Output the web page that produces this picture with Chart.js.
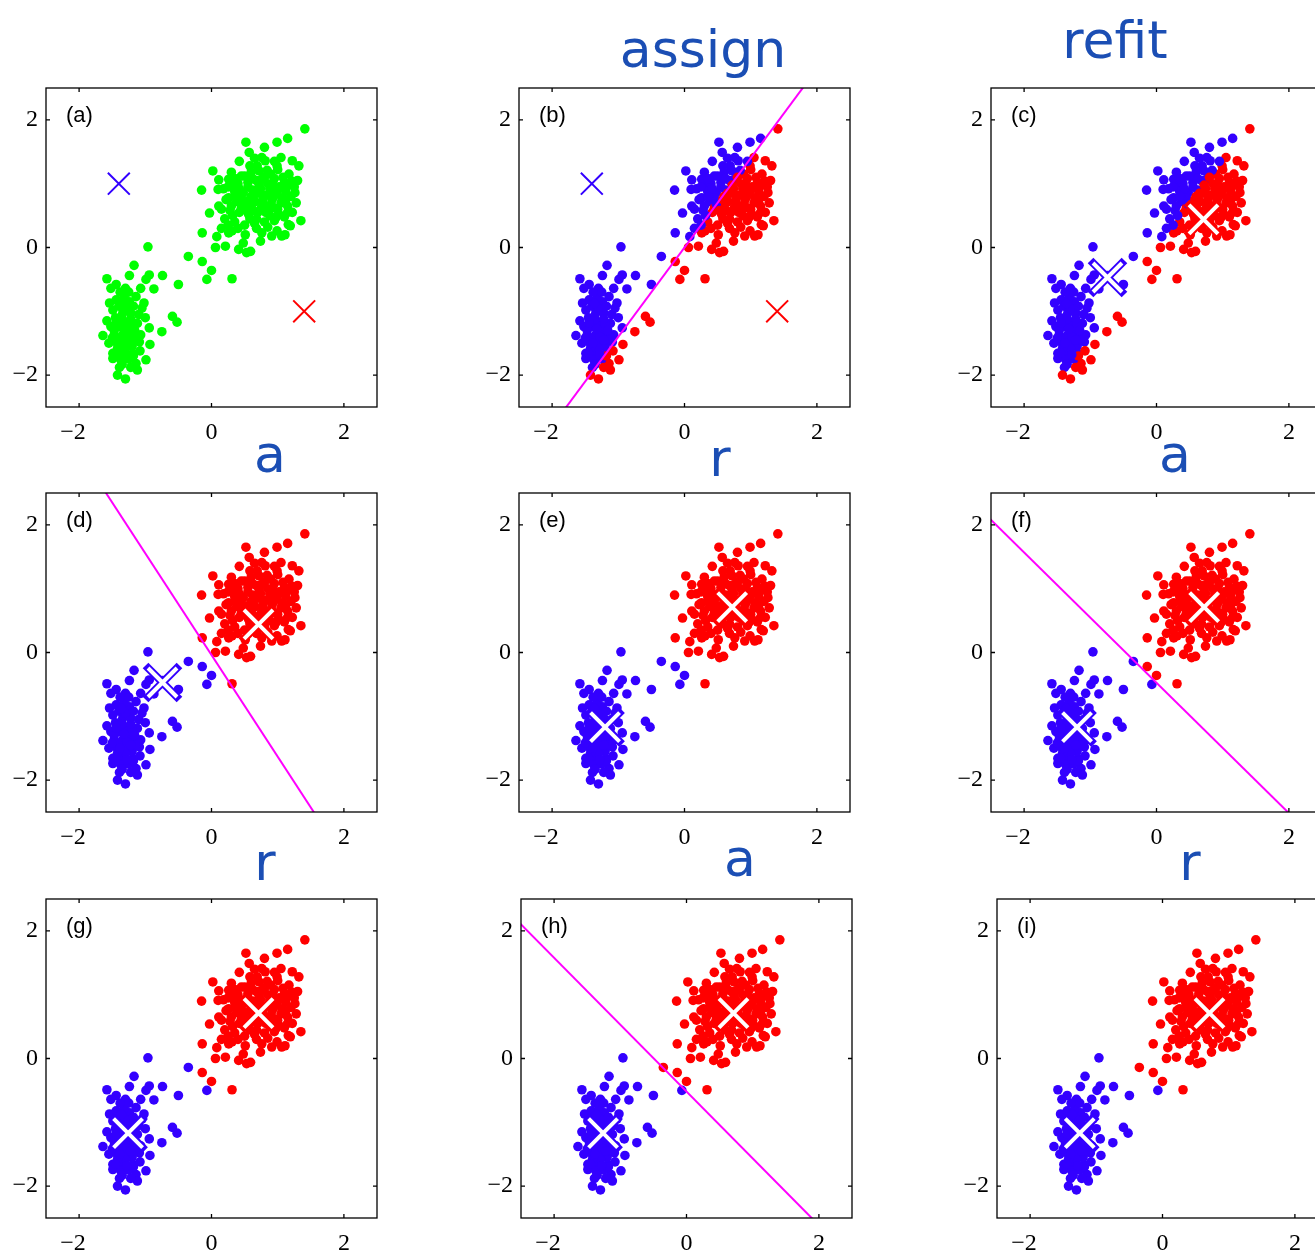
<!DOCTYPE html>
<html lang="en">
  <head>
    <meta charset="UTF-8" />
    <title>K-means iterations</title>
    <script src="https://cdn.jsdelivr.net/npm/chart.js"></script>
    <style>
      html,
      body {
        margin: 0;
        padding: 0;
        width: 1315px;
        height: 1253px;
        overflow: hidden;
        background: #fff;
      }
      .panel {
        position: absolute;
      }
      /* handwritten notes */
      .note {
        position: absolute;
        color: rgb(27, 78, 180);
        font-family: "DejaVu Sans";
        font-size: 52px;
        line-height: 1;
        transform: translateX(-50%);
        white-space: nowrap;
      }
    </style>
  </head>
  <body>
    <div class="note" style="left: 703px; top: 23px">assign</div>
    <div class="note" style="left: 1115px; top: 14px">refit</div>
    <div class="note" style="left: 270px; top: 428px">a</div>
    <div class="note" style="left: 720px; top: 432px">r</div>
    <div class="note" style="left: 1175px; top: 428px">a</div>
    <div class="note" style="left: 265px; top: 836px">r</div>
    <div class="note" style="left: 740px; top: 832px">a</div>
    <div class="note" style="left: 1190px; top: 836px">r</div>

    <script>
      // standardised Old Faithful points
      const points = [
        // short eruptions
        [-0.96, 0.01], [-1.17, -0.28], [-1.24, -0.44], [-0.94, -0.43], [-0.74, -0.44],
        [-1.58, -0.49], [-0.99, -0.5], [-0.5, -0.58], [-1.44, -0.58], [-1.52, -0.64],
        [-1.3, -0.64], [-1.07, -0.64], [-0.87, -0.65], [-1.14, -0.77], [-1.54, -0.87],
        [-1.44, -0.82], [-1.24, -0.85], [-1.02, -0.87], [-1.49, -0.98], [-1.34, -1.03],
        [-1.22, -1.03], [-0.59, -1.08], [-0.52, -1.17], [-1.29, -1.19], [-1.12, -1.19],
        [-1.52, -1.24], [-1.39, -1.24], [-0.94, -1.26], [-0.75, -1.32], [-1.64, -1.38],
        [-1.47, -1.37], [-1.34, -1.37], [-1.19, -1.37], [-1.07, -1.37], [-1.44, -1.48],
        [-1.29, -1.5], [-1.09, -1.48], [-0.93, -1.52], [-1.49, -1.66], [-1.34, -1.66],
        [-1.19, -1.66], [-1.49, -1.74], [-1.37, -1.76], [-1.14, -1.82], [-0.99, -1.76],
        [-1.39, -1.88], [-1.12, -1.92], [-1.3, -2.06],
        [-1.4, -0.92], [-1.3, -0.95], [-1.45, -1.1], [-1.35, -1.12], [-1.25, -1.3],
        [-1.4, -1.42], [-1.2, -1.55], [-1.3, -1.58], [-1.42, -1.58], [-1.25, -1.75],
        [-1.2, -1.2], [-1.32, -0.78], [-1.1, -1.05], [-1.58, -1.15], [-1.15, -1.45],
        [-1.35, -1.83], [-1.47, -1.3], [-1.05, -0.95], [-1.25, -0.7], [-1.55, -1.5],
        [-1.38, -0.7], [-1.18, -0.92], [-1.0, -1.1], [-1.28, -1.4], [-1.5, -1.42],
        [-1.18, -1.7], [-1.42, -2.0], [-1.08, -1.62],
        [-1.36, -0.88], [-1.22, -1.12], [-1.44, -1.18], [-1.32, -1.28], [-1.16, -1.3],
        [-1.38, -1.5], [-1.22, -1.45], [-1.45, -1.65], [-1.28, -1.68], [-1.22, -1.88],
        // in between
        [-0.35, -0.14], [-0.14, -0.22], [0.0, -0.36], [-0.07, -0.5], [0.31, -0.49],
        // long eruptions
        [1.41, 1.86], [1.15, 1.71], [0.99, 1.65], [0.8, 1.57], [0.57, 1.49],
        [0.52, 1.65], [1.05, 1.41], [1.22, 1.36], [1.32, 1.28], [0.81, 1.36],
        [0.99, 1.28], [0.69, 1.28], [0.76, 1.41], [0.42, 1.35], [0.58, 1.28],
        [0.02, 1.2], [0.45, 1.12], [0.11, 1.06], [-0.15, 0.9], [0.1, 0.91],
        [0.31, 0.97], [1.17, 1.15], [0.76, 1.07], [0.89, 1.15], [0.84, 1.21],
        [0.26, 1.07], [1.21, 1.04], [1.26, 0.86], [-0.03, 0.54], [-0.14, 0.23],
        [0.08, 0.17], [0.06, 0.0], [0.21, 0.02], [0.41, -0.03], [0.53, -0.08],
        [0.26, 0.23], [0.48, 0.07], [1.35, 0.42], [0.74, 0.1], [0.91, 0.18],
        [1.06, 0.18], [0.59, -0.06], [1.19, 0.34], [0.11, 0.65], [0.26, 0.78],
        [0.31, 0.26], [0.51, 0.2], [0.76, 0.23], [0.99, 0.26], [1.11, 0.2],
        [1.16, 0.36],
        [0.2, 0.45], [0.35, 0.4], [0.5, 0.35], [0.65, 0.38], [0.8, 0.4],
        [0.95, 0.42], [1.1, 0.48], [1.22, 0.55], [0.15, 0.6], [0.28, 0.58],
        [0.42, 0.55], [0.56, 0.52], [0.7, 0.55], [0.85, 0.58], [1.0, 0.6],
        [1.15, 0.65], [1.28, 0.7], [0.22, 0.75], [0.38, 0.72], [0.52, 0.7],
        [0.66, 0.72], [0.78, 0.75], [0.92, 0.76], [1.06, 0.78], [1.2, 0.8],
        [0.18, 0.92], [0.35, 0.88], [0.48, 0.86], [0.62, 0.9], [0.74, 0.92],
        [0.88, 0.92], [1.02, 0.95], [1.14, 0.96], [0.4, 1.0], [0.55, 1.02],
        [0.68, 1.05], [0.95, 1.08], [1.08, 1.1], [0.3, 1.18], [0.6, 1.18],
        [0.72, 1.2], [1.0, 1.22], [0.45, 0.62], [0.6, 0.65], [0.75, 0.62],
        [0.9, 0.68], [1.05, 0.7], [0.32, 0.5], [0.58, 0.45], [0.88, 0.5],
        [1.02, 0.52], [0.7, 0.85], [0.82, 0.82], [0.97, 0.85], [0.45, 0.78],
        [0.6, 0.8], [1.12, 0.88], [0.25, 0.35], [0.4, 0.3], [0.68, 0.3],
        [0.85, 0.32], [1.25, 0.95], [0.15, 0.3], [0.55, 0.95], [0.85, 1.0],
        [1.3, 1.05], [0.95, 1.35], [0.65, 1.4],
        [0.3, 0.65], [0.48, 0.68], [0.63, 0.58], [0.78, 0.68], [0.95, 0.62],
        [1.12, 0.74], [0.42, 0.92], [0.58, 0.75], [0.72, 0.98], [0.88, 0.84],
        [1.0, 0.9], [0.53, 0.58], [0.68, 0.45], [0.82, 0.55], [0.98, 0.48],
        [1.15, 0.55], [0.36, 0.8], [0.65, 0.85], [0.8, 1.1], [0.92, 1.0],
        [1.1, 1.02], [0.5, 1.12], [0.62, 1.08], [0.25, 0.95], [0.35, 1.08],
      ];

      // cluster means [blue, red] at each step
      const centersA = [[-1.4, 1.0], [1.4, -1.0]];
      const centersC = [[-0.74, -0.47], [0.71, 0.44]];
      const centersE = [[-1.2, -1.17], [0.72, 0.71]];
      const centersG = [[-1.26, -1.17], [0.71, 0.71]];
      const centersI = [[-1.25, -1.17], [0.71, 0.71]];

      const tickValues = [-2, 0, 2];
      const tickText = ["\u22122", "0", "2"];
      const panelLabels = ["(a)", "(b)", "(c)", "(d)", "(e)", "(f)", "(g)", "(h)", "(i)"];

      const green = "rgb(0,255,0)";
      const clusterColors = ["rgb(51,0,255)", "rgb(255,0,0)"];
      const magenta = "rgb(255,0,255)";

      // layout: left/top of each plot box, which means colour the points,
      // which means are drawn, boundary or not, marker style
      const panels = [
        { left: 46, top: 88, colorFrom: null, centers: centersA, line: false, bold: false },
        { left: 519, top: 88, colorFrom: centersA, centers: centersA, line: true, bold: false },
        { left: 991, top: 88, colorFrom: centersA, centers: centersC, line: false, bold: true },
        { left: 46, top: 493, colorFrom: centersC, centers: centersC, line: true, bold: true },
        { left: 519, top: 493, colorFrom: centersC, centers: centersE, line: false, bold: true },
        { left: 991, top: 493, colorFrom: centersE, centers: centersE, line: true, bold: true },
        { left: 46, top: 899, colorFrom: centersE, centers: centersG, line: false, bold: true },
        { left: 521, top: 899, colorFrom: centersG, centers: centersG, line: true, bold: true },
        { left: 997, top: 899, colorFrom: centersG, centers: centersI, line: false, bold: true },
      ];

      function nearest(pt, centers) {
        let best = 0, bestD = Infinity;
        centers.forEach(function (c, k) {
          const d = (pt[0] - c[0]) ** 2 + (pt[1] - c[1]) ** 2;
          if (d < bestD) { bestD = d; best = k; }
        });
        return best;
      }

      // perpendicular bisector of the two means
      function boundary(centers) {
        const [c1, c2] = centers;
        const mx = (c1[0] + c2[0]) / 2, my = (c1[1] + c2[1]) / 2;
        const dx = c2[0] - c1[0], dy = c2[1] - c1[1];
        const len = Math.hypot(dx, dy), t = 6 / len;
        return [
          { x: mx + dy * t, y: my - dx * t },
          { x: mx - dy * t, y: my + dx * t },
        ];
      }

      // box, inward ticks on all sides, panel letter
      const panelFrame = {
        id: "panelFrame",
        afterDraw(chart, args, opts) {
          const { ctx, chartArea: a } = chart;
          const x = chart.scales.x, y = chart.scales.y;
          ctx.save();
          ctx.strokeStyle = "#000";
          ctx.lineWidth = 1.3;
          ctx.strokeRect(a.left, a.top, a.right - a.left, a.bottom - a.top);
          ctx.beginPath();
          tickValues.forEach(function (v) {
            const px = x.getPixelForValue(v), py = y.getPixelForValue(v);
            ctx.moveTo(px, a.bottom); ctx.lineTo(px, a.bottom - 4);
            ctx.moveTo(px, a.top); ctx.lineTo(px, a.top + 4);
            ctx.moveTo(a.left, py); ctx.lineTo(a.left + 4, py);
            ctx.moveTo(a.right, py); ctx.lineTo(a.right - 4, py);
          });
          ctx.stroke();
          ctx.fillStyle = "#000";
          ctx.font = '22px "Liberation Sans"';
          ctx.textBaseline = "middle";
          ctx.fillText(opts.label, a.left + 20, a.top + 28);
          ctx.restore();
        },
      };
      Chart.register(panelFrame);

      const tickFont = { family: "Liberation Serif", size: 24 };

      function fixedTicks(s) {
        s.ticks = tickValues.map(function (v) { return { value: v }; });
      }

      panels.forEach(function (p, i) {
        const cv = document.createElement("canvas");
        cv.width = 389;
        cv.height = 369;
        cv.className = "panel";
        cv.style.left = p.left - 46 + "px";
        cv.style.top = p.top - 10 + "px";
        document.body.appendChild(cv);

        const colors = points.map(function (pt) {
          return p.colorFrom ? clusterColors[nearest(pt, p.colorFrom)] : green;
        });

        const datasets = [
          {
            data: points.map(function (pt) { return { x: pt[0], y: pt[1] }; }),
            pointRadius: 4.8,
            pointBackgroundColor: colors,
            pointBorderWidth: 0,
            order: 5,
          },
        ];
        if (p.line) {
          datasets.push({
            type: "line",
            data: boundary(p.centers),
            showLine: true,
            borderColor: magenta,
            borderWidth: 2,
            pointRadius: 0,
            order: 3,
          });
        }
        p.centers.forEach(function (c, k) {
          const pos = [{ x: c[0], y: c[1] }];
          if (p.bold) {
            datasets.push({
              data: pos, pointStyle: "crossRot", pointRadius: 24,
              pointBorderColor: clusterColors[k], pointBorderWidth: 8, order: 1,
            });
            datasets.push({
              data: pos, pointStyle: "crossRot", pointRadius: 20.5,
              pointBorderColor: "#fff", pointBorderWidth: 4, order: 0,
            });
          } else {
            datasets.push({
              data: pos, pointStyle: "crossRot", pointRadius: 15.5,
              pointBorderColor: clusterColors[k], pointBorderWidth: 2, order: 0,
            });
          }
        });

        new Chart(cv.getContext("2d"), {
          type: "scatter",
          data: { datasets: datasets },
          options: {
            responsive: false,
            animation: false,
            events: [],
            layout: { autoPadding: false, padding: { top: 10, right: 12, left: 0, bottom: 0 } },
            plugins: {
              legend: { display: false },
              tooltip: { enabled: false },
              panelFrame: { label: panelLabels[i] },
            },
            scales: {
              x: {
                type: "linear", min: -2.5, max: 2.5,
                grid: { display: false, drawTicks: false },
                border: { display: false },
                afterBuildTicks: fixedTicks,
                afterFit: function (s) {
                  s.height = 40;
                  s.paddingLeft = 0;
                  s.paddingRight = 0;
                },
                ticks: {
                  // en space keeps "−2" centred on its digit like the original
                  callback: function (v) {
                    const t = tickText[tickValues.indexOf(v)];
                    return v < 0 ? t + "\u2002" : t;
                  },
                  font: tickFont, color: "#000", padding: 11, maxRotation: 0, autoSkip: false,
                },
              },
              y: {
                type: "linear", min: -2.5, max: 2.5,
                grid: { display: false, drawTicks: false },
                border: { display: false },
                afterBuildTicks: fixedTicks,
                afterFit: function (s) {
                  s.width = 46;
                  s.paddingTop = 0;
                  s.paddingBottom = 0;
                },
                ticks: {
                  callback: function (v) { return tickText[tickValues.indexOf(v)]; },
                  font: tickFont, color: "#000", padding: 8, autoSkip: false,
                },
              },
            },
          },
        });
      });
    </script>
  </body>
</html>
